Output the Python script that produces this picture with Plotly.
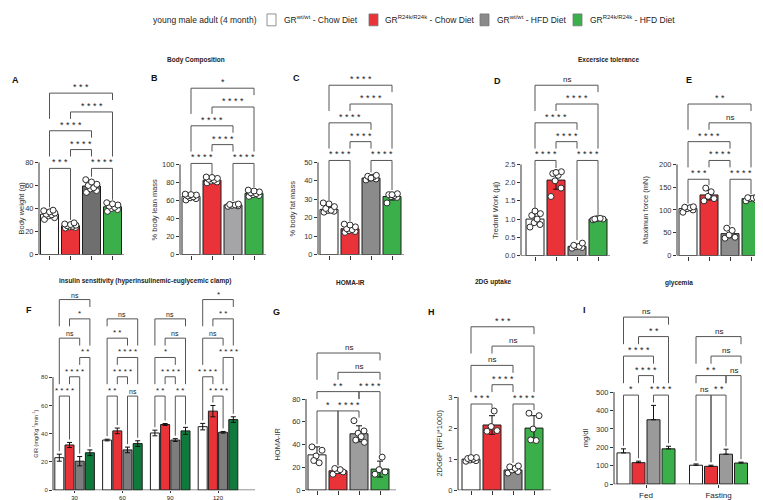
import plotly.graph_objects as go

W, H = 763, 500
FONT = "Arial, Liberation Sans, Helvetica, sans-serif"

# ------------------------------------------------------------------ data
legend_title = "young male adult (4 month)"
legend_labels = ["GR<sup>wt/wt</sup> - Chow Diet", "GR<sup>R24k/R24k</sup> - Chow Diet",
                 "GR<sup>wt/wt</sup> - HFD Diet", "GR<sup>R24k/R24k</sup> - HFD Diet"]

# A  body weight (g)
A_mean = [35.0, 25.0, 59.5, 41.5]
A_sd = [2.6, 1.3, 3.9, 2.6]
A_pts = [[30.5, 32, 33.5, 34.5, 35, 36, 37, 38, 38.5],
         [23, 23.5, 24, 24.5, 25, 25.5, 26, 26.5, 27.5],
         [54, 55.5, 57, 58, 60, 61, 63, 65],
         [37.5, 39, 40, 41, 42, 43, 44, 45]]
A_br = [(0, 1, "***", 0), (2, 3, "****", 0), (1, 2, "****", 1), (0, 2, "****", 2), (1, 3, "****", 3), (0, 3, "***", 4)]

# B  % body lean mass
B_mean = [64.5, 82.5, 55.0, 68.0]
B_sd = [2.3, 2.3, 1.0, 2.7]
B_pts = [[60.5, 62, 63, 64, 65, 66, 66.5, 67],
         [79.5, 80.5, 81.5, 82.5, 83.5, 84.5, 85.5, 86],
         [53.5, 54, 54.5, 55, 55.5, 56],
         [64.5, 65.5, 66.5, 67.5, 68.5, 69.5, 70.5, 71.5]]
B_br = [(0, 1, "****", 0), (2, 3, "****", 0), (1, 2, "****", 1), (0, 2, "****", 2), (1, 3, "****", 3), (0, 3, "*", 4)]

# C  % body fat mass
C_mean = [24.5, 14.0, 41.5, 31.5]
C_sd = [1.8, 1.6, 0.9, 1.9]
C_pts = [[23, 23.5, 24, 24, 25, 26, 27.5, 28],
         [12, 12.5, 13, 13.5, 14, 15, 16, 16.5],
         [40.5, 41, 41.5, 42, 42.5, 43, 41.5],
         [28, 31, 31.5, 32, 32.5, 33, 32.5]]
C_br = [(0, 1, "****", 0), (2, 3, "****", 0), (1, 2, "****", 1), (0, 2, "****", 2), (1, 3, "****", 3), (0, 3, "****", 4)]

# D  treadmill work
D_mean = [1.0, 2.07, 0.25, 1.0]
D_sd = [0.15, 0.25, 0.05, 0.02]
D_pts = [[0.78, 0.85, 0.9, 1.0, 1.1, 1.15, 1.22],
         [1.62, 1.85, 2.05, 2.2, 2.25, 2.3, 2.28],
         [0.2, 0.22, 0.24, 0.25, 0.28, 0.34],
         [0.98, 1.0, 1.01, 1.02, 1.0]]
D_br = [(0, 1, "****", 0), (2, 3, "****", 0), (1, 2, "****", 1), (0, 2, "****", 2), (1, 3, "****", 3), (0, 3, "ns", 4)]

# E  maximum force (mN)
E_mean = [103, 133, 48, 125]
E_sd = [4.5, 11, 9, 3]
E_pts = [[95, 100, 103, 105, 106, 107],
         [120, 125, 130, 140, 148],
         [38, 40, 45, 55, 60],
         [120, 122, 125, 126, 127, 128]]
E_br = [(0, 1, "***", 0), (2, 3, "****", 0), (1, 2, "****", 1), (0, 2, "****", 2), (1, 3, "ns", 3), (0, 3, "**", 4)]

# F  GIR over time (mean, SEM) per series, per time point
F_times = ["30", "60", "90", "120"]
F_mean = [[23, 35.5, 40.5, 45],
          [32, 42, 46.5, 56],
          [20.5, 28.5, 35.5, 41],
          [26.5, 33, 42, 50]]
F_sem = [[2.5, 0.6, 2.0, 2.3],
         [1.8, 2.0, 0.7, 4.0],
         [3.3, 2.0, 1.0, 0.6],
         [2.0, 2.0, 2.5, 2.0]]
F_br = [(0, 0, 1, "****", 0), (0, 1, 2, "****", 1), (0, 2, 3, "**", 2), (0, 0, 2, "ns", 3), (0, 1, 3, "*", 4), (0, 0, 3, "ns", 5),
        (1, 0, 1, "**", 0), (1, 2, 3, "ns", 0), (1, 1, 2, "****", 1), (1, 1, 3, "****", 2), (1, 0, 2, "**", 3), (1, 0, 3, "ns", 4),
        (2, 0, 1, "**", 0), (2, 2, 3, "**", 0), (2, 1, 2, "****", 1), (2, 0, 2, "*", 2), (2, 1, 3, "ns", 3), (2, 0, 3, "ns", 4),
        (3, 1, 2, "****", 0), (3, 0, 1, "****", 1), (3, 2, 3, "****", 2), (3, 0, 2, "ns", 3), (3, 1, 3, "**", 4), (3, 0, 3, "*", 5)]

# G  HOMA-IR
G_mean = [31, 17, 49.5, 18.5]
G_sd = [7, 2.2, 7, 7]
G_pts = [[38, 35, 30, 24, 26], [14, 16, 17, 18, 19], [61, 52, 50, 47, 44, 42], [14, 16, 18, 29]]
G_br = [(0, 1, "*", 0), (1, 2, "****", 0), (0, 2, "**", 1), (2, 3, "****", 1), (1, 3, "ns", 2), (0, 3, "ns", 3)]

# H  2DG6P
H_mean = [1.0, 2.1, 0.65, 2.0]
H_sd = [0.05, 0.3, 0.08, 0.4]
H_pts = [[0.93, 0.95, 0.97, 1.0, 1.02, 1.05, 1.05], [1.9, 1.92, 2.05, 2.55],
         [0.55, 0.6, 0.65, 0.7, 0.75, 0.78], [2.48, 2.4, 1.97, 1.6, 1.62]]
H_br = [(0, 1, "***", 0), (2, 3, "****", 0), (1, 2, "****", 1), (0, 2, "ns", 2), (1, 3, "ns", 3), (0, 3, "***", 4)]

# I  glycemia (mean, SEM)
I_states = ["Fed", "Fasting"]
I_mean = [[170, 103], [117, 97], [350, 163], [192, 115]]
I_sem = [[22, 7], [8, 6], [78, 27], [14, 5]]
I_br = [(0, 0, 1, "*", 0), (0, 2, 3, "****", 0), (0, 1, 2, "****", 1), (0, 0, 2, "****", 2), (0, 1, 3, "**", 3), (0, 0, 3, "ns", 4),
        (1, 0, 1, "ns", 0), (1, 1, 2, "**", 0), (1, 0, 2, "**", 1), (1, 2, 3, "ns", 1), (1, 1, 3, "ns", 2), (1, 0, 3, "ns", 3)]

# ------------------------------------------------------------------ styles
WHITE = "#ffffff"
RED = "#ea3339"
GREEN = "#3bb04a"
GREEN_F = "#0f7a3c"
legend_colors = [WHITE, RED, "#8a8a8a", GREEN]
JITTER = [-0.28, 0.28, -0.05, 0.12, -0.18, 0.3, 0.0, -0.32, 0.2]


def simple(mean, sd, pts, br):
    return dict(mean=[[m] for m in mean], err=[[e] for e in sd], pts=[[p] for p in pts],
                br=[(0,) + b for b in br], ngroups=1, bar_pitch=1.0)


panels = [
    dict(**simple(A_mean, A_sd, A_pts, A_br), colors=[WHITE, RED, "#6f6f6f", GREEN], letter="A",
         axis_px=31, x0_px=41.5, unit_px=21, bw_px=18, end_px=116, bot_px=249, tick_px=156, top_px=62,
         tickmax=80, dtick=20, fmt="{:.0f}", base_px=162, step_px=19,
         ytitle="Body weight (g)", ytitle_px=13, letter_pos=(7, 73)),
    dict(**simple(B_mean, B_sd, B_pts, B_br), colors=[WHITE, RED, "#a5a5a7", GREEN], letter="B",
         axis_px=172, x0_px=183, unit_px=21, bw_px=18, end_px=258, bot_px=249, tick_px=158, top_px=62,
         tickmax=100, dtick=20, fmt="{:.0f}", base_px=157, step_px=19,
         ytitle="% body lean mass", ytitle_px=146, letter_pos=(146, 71)),
    dict(**simple(C_mean, C_sd, C_pts, C_br), colors=[WHITE, RED, "#8b8b8b", GREEN], letter="C",
         axis_px=310, x0_px=321, unit_px=21, bw_px=18, end_px=396, bot_px=249, tick_px=156, top_px=62,
         tickmax=50, dtick=10, fmt="{:.0f}", base_px=154, step_px=19,
         ytitle="% body fat mass", ytitle_px=284, letter_pos=(288, 71)),
    dict(**simple(D_mean, D_sd, D_pts, D_br), colors=[WHITE, RED, "#939393", GREEN], letter="D",
         axis_px=513, x0_px=527, unit_px=21, bw_px=18, end_px=602, bot_px=250, tick_px=158, top_px=62,
         tickmax=2.5, dtick=0.5, fmt="{:.1f}", base_px=154, step_px=19,
         ytitle="Tredmil Work (µj)", ytitle_px=488, letter_pos=(489, 74)),
    dict(**simple(E_mean, E_sd, E_pts, E_br), colors=[WHITE, RED, "#8c8c8c", GREEN], letter="E",
         axis_px=669, x0_px=680, unit_px=21, bw_px=18, end_px=757, bot_px=250, tick_px=158, top_px=62,
         tickmax=200, dtick=50, fmt="{:.0f}", base_px=173, step_px=19,
         ytitle="Maximun force (mN)", ytitle_px=638, letter_pos=(681, 73)),
    dict(mean=[[[v] for v in s] for s in F_mean], err=[[[v] for v in s] for s in F_sem], pts=None,
         br=F_br, ngroups=4, bar_pitch=10.2 / 47.8, colors=[WHITE, RED, "#7d7d7d", GREEN_F], letter="F",
         axis_px=45, x0_px=66.6, unit_px=47.8, bw_px=9, end_px=247, bot_px=487, tick_px=373, top_px=283,
         tickmax=80, dtick=20, fmt="{:.0f}", base_px=392, step_px=19.5, xlabels=F_times, xticklen=2,
         ytitle="GIR (mg/Kg<sup>-1</sup>/min<sup>-1</sup>)", ytitle_px=27, letter_pos=(21, 305), small=True),
    dict(**simple(G_mean, G_sd, G_pts, G_br), colors=[WHITE, RED, "#9d9d9d", GREEN], letter="G",
         axis_px=298, x0_px=309, unit_px=21, bw_px=18, end_px=388, bot_px=487, tick_px=395, top_px=283,
         tickmax=80, dtick=20, fmt="{:.0f}", base_px=407, step_px=19.5,
         ytitle="HOMA-IR", ytitle_px=270, letter_pos=(268, 307)),
    dict(**simple(H_mean, H_sd, H_pts, H_br), colors=[WHITE, RED, "#8c8c8c", GREEN], letter="H",
         axis_px=450, x0_px=463, unit_px=21, bw_px=18, end_px=543, bot_px=487, tick_px=393, top_px=283,
         tickmax=3, dtick=1, fmt="{:.0f}", base_px=400, step_px=19.5,
         ytitle="2DG6P (RFU*1000)", ytitle_px=432, letter_pos=(423, 307)),
    dict(mean=[[[v] for v in s] for s in I_mean], err=[[[v] for v in s] for s in I_sem], pts=None,
         br=I_br, ngroups=2, bar_pitch=15 / 72.5, colors=[WHITE, RED, "#9a9a9a", GREEN], letter="I",
         axis_px=606, x0_px=638, unit_px=72.5, bw_px=13, end_px=742, bot_px=481, tick_px=388, top_px=283,
         tickmax=500, dtick=100, fmt="{:.0f}", base_px=391, step_px=19.7, xlabels=I_states, up_only=True,
         xticklen=3, ytitle="mg/dl", ytitle_px=577, letter_pos=(576, 305)),
]

fig = go.Figure()
shapes, annots = [], []


def stars(t):
    return " ".join(t) if set(t) == {"*"} else t


for n, p in enumerate(panels, start=1):
    xa = "x" if n == 1 else f"x{n}"
    ya = "y" if n == 1 else f"y{n}"
    ppu = (p["bot_px"] - p["tick_px"]) / p["tickmax"]
    ymax = (p["bot_px"] - p["top_px"]) / ppu
    xr0 = -(p["x0_px"] - p["axis_px"]) / p["unit_px"]
    xr1 = (p["end_px"] - p["x0_px"]) / p["unit_px"]
    bw = p["bw_px"] / p["unit_px"]
    G = p["ngroups"]
    grouped = G > 1

    def v2py(v):
        return p["bot_px"] - v * ppu

    def py2v(py):
        return (p["bot_px"] - py) / ppu

    def bx(g, k):
        if grouped:
            return g + (k - 1.5) * p["bar_pitch"]
        return float(k)

    # bars
    xs, ys, eu, ed, cols = [], [], [], [], []
    top = {}
    for g in range(G):
        for k in range(4):
            if grouped:
                m = p["mean"][k][g][0]
                e = p["err"][k][g][0]
            else:
                m = p["mean"][k][0]
                e = p["err"][k][0]
            xs.append(bx(g, k)); ys.append(m); eu.append(e)
            ed.append(0 if p.get("up_only") else e)
            cols.append(p["colors"][k])
            t = m + e
            if p["pts"] is not None:
                t = max(t, max(p["pts"][k][0]))
            top[(g, k)] = t
    fig.add_trace(go.Bar(
        x=xs, y=ys, width=bw, xaxis=xa, yaxis=ya, showlegend=False, hoverinfo="skip",
        marker=dict(color=cols, line=dict(color="#1e1e1e", width=1)),
        error_y=dict(type="data", array=eu, arrayminus=ed, symmetric=False, color="#111111",
                     thickness=1, width=2.5 if grouped else 3)))

    # individual points
    if p["pts"] is not None:
        px_, py_ = [], []
        for k in range(4):
            vals = p["pts"][k][0]
            for i, v in enumerate(vals):
                px_.append(bx(0, k) + JITTER[i % len(JITTER)] * bw)
                py_.append(v)
        fig.add_trace(go.Scatter(
            x=px_, y=py_, mode="markers", xaxis=xa, yaxis=ya, showlegend=False, hoverinfo="skip",
            cliponaxis=False,
            marker=dict(size=6, color="white", line=dict(color="#2a2a2a", width=1))))

    # significance brackets
    lx, ly = [], []
    for (g, i, j, lab, lev) in p["br"]:
        line_py = p["base_px"] - lev * p["step_px"]
        yl = py2v(line_py)
        legs = []
        for k in (i, j):
            lower = [b[4] for b in p["br"] if b[0] == g and b[4] < lev and b[1] <= k <= b[2]]
            if lower:
                bot_py = (p["base_px"] - max(lower) * p["step_px"]) - 12
            else:
                bot_py = v2py(top[(g, k)]) - 3
            bot_py = max(bot_py, line_py + 3)
            legs.append(py2v(bot_py))
        x1, x2 = bx(g, i), bx(g, j)
        lx += [x1, x1, x2, x2, None]
        ly += [legs[0], yl, yl, legs[1], None]
        small = p.get("small", False)
        if lab == "ns":
            fsz = 7 if small else 8
        else:
            fsz = 8 if small else 9
        annots.append(dict(x=(x1 + x2) / 2, y=yl, xref=xa, yref=ya, text=stars(lab), showarrow=False,
                           yanchor="bottom", yshift=-1,
                           font=dict(family=FONT, size=fsz, color="#1a1a1a")))
    fig.add_trace(go.Scatter(x=lx, y=ly, mode="lines", xaxis=xa, yaxis=ya, showlegend=False,
                             hoverinfo="skip", line=dict(color="#555555", width=1)))

    # axis lines (only to top tick like Prism)
    shapes.append(dict(type="line", xref=f"{xa} domain", yref=ya, x0=0, x1=0, y0=0, y1=p["tickmax"],
                       line=dict(color="#333", width=1)))
    shapes.append(dict(type="line", xref=f"{xa} domain", yref=ya, x0=0, x1=1, y0=0, y1=0,
                       line=dict(color="#333", width=1)))

    tv = []
    v = 0.0
    while v <= p["tickmax"] + 1e-9:
        tv.append(round(v, 6)); v += p["dtick"]
    small = p.get("small", False)
    if grouped:
        xt = list(range(G))
        xtt = p["xlabels"]
    else:
        xt = [0, 1, 2, 3]
        xtt = None
    xaxis = dict(domain=[p["axis_px"] / W, p["end_px"] / W], range=[xr0, xr1], anchor=ya,
                 showgrid=False, zeroline=False, showline=False, ticks="outside",
                 ticklen=p.get("xticklen", 4), tickwidth=1, tickcolor="#333", tickvals=xt, fixedrange=True,
                 showticklabels=xtt is not None,
                 tickfont=dict(family=FONT, size=6 if small else 8, color="#222"))
    if xtt is not None:
        xaxis["ticktext"] = xtt
    yaxis = dict(domain=[1 - p["bot_px"] / H, 1 - p["top_px"] / H], range=[0, ymax], anchor=xa,
                 showgrid=False, zeroline=False, showline=False, ticks="outside", ticklen=3,
                 tickwidth=1, tickcolor="#333", tickvals=tv, ticktext=[p["fmt"].format(t) for t in tv],
                 tickfont=dict(family=FONT, size=6 if small else 7.5, color="#333"), fixedrange=True)
    fig.update_layout(**{("xaxis" if n == 1 else f"xaxis{n}"): xaxis,
                         ("yaxis" if n == 1 else f"yaxis{n}"): yaxis})

    # y title
    annots.append(dict(x=p["ytitle_px"] / W, y=1 - (p["bot_px"] + p["tick_px"]) / 2 / H, xref="paper", yref="paper",
                       text=p["ytitle"], textangle=-90, showarrow=False, xanchor="center", yanchor="middle",
                       font=dict(family=FONT, size=5.5 if small else 7.5, color="#333")))
    # panel letter
    lxp, lyp = p["letter_pos"]
    annots.append(dict(x=lxp / W, y=1 - lyp / H, xref="paper", yref="paper", text=f"<b>{p['letter']}</b>",
                       showarrow=False, xanchor="center", yanchor="middle",
                       font=dict(family=FONT, size=9, color="#111")))

# section titles
section_titles = [("Body Composition", 188, 53), ("Excersice tolerance", 600, 52),
                  ("insulin sensitivity (hyperinsulinemic-euglycemic clamp)", 137, 276),
                  ("HOMA-IR", 342, 277), ("2DG uptake", 485, 277), ("glycemia", 671, 278)]
for t, x, y in section_titles:
    annots.append(dict(x=x / W, y=1 - y / H, xref="paper", yref="paper", text=f"<b>{t}</b>", showarrow=False,
                       xanchor="center", yanchor="middle", font=dict(family=FONT, size=6.5, color="#222")))

# top legend
annots.append(dict(x=143 / W, y=1 - 12 / H, xref="paper", yref="paper", text=legend_title, showarrow=False,
                   xanchor="left", yanchor="middle", font=dict(family=FONT, size=8.5, color="#222")))
leg_pos = [(259, 274), (361, 375), (472, 487), (565, 580)]
for (sx, tx), lab, c in zip(leg_pos, legend_labels, legend_colors):
    shapes.append(dict(type="rect", xref="paper", yref="paper", x0=sx / W, x1=(sx + 9) / W,
                       y0=1 - 18 / H, y1=1 - 6 / H, fillcolor=c, line=dict(color="#777", width=0.8)))
    annots.append(dict(x=tx / W, y=1 - 12 / H, xref="paper", yref="paper", text=lab, showarrow=False,
                       xanchor="left", yanchor="middle", font=dict(family=FONT, size=8.5, color="#222")))

fig.update_layout(width=W, height=H, margin=dict(l=0, r=0, t=0, b=0), paper_bgcolor="white",
                  plot_bgcolor="rgba(0,0,0,0)", barmode="overlay", shapes=shapes, annotations=annots,
                  font=dict(family=FONT), showlegend=False)

fig.write_html("out.html")
